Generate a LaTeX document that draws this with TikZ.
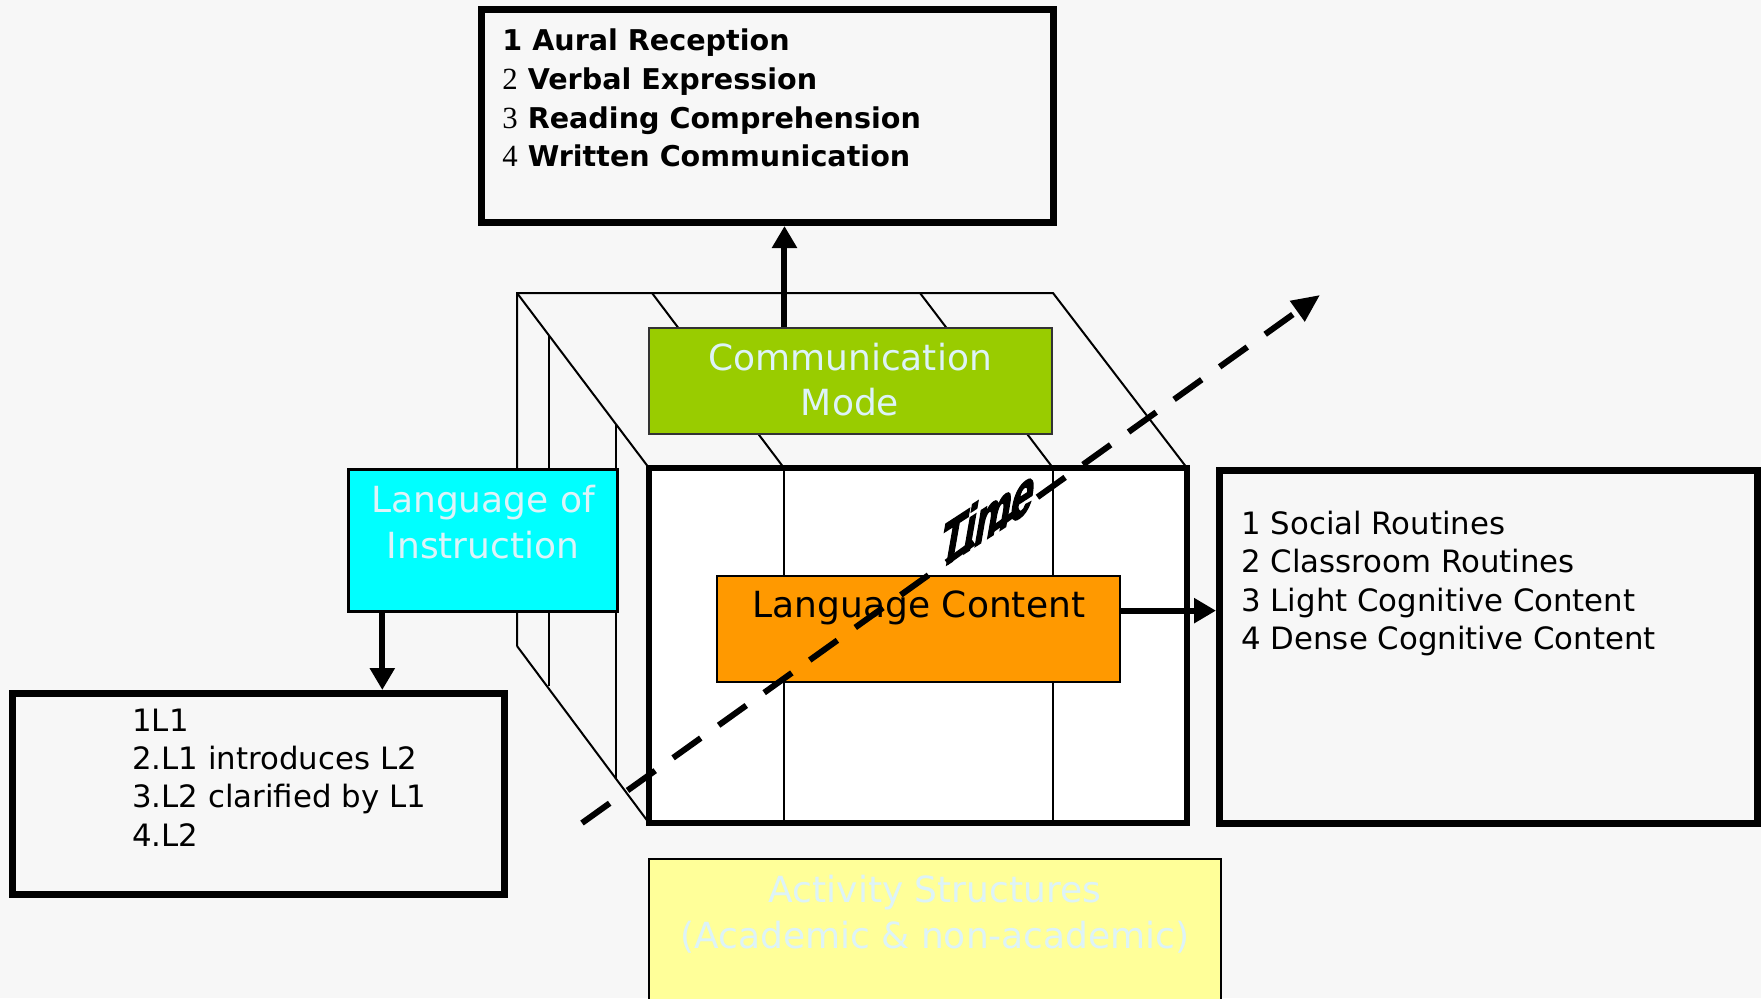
\documentclass[tikz,border=0pt]{standalone}
\usepackage{fontspec}
\setmainfont{DejaVu Sans}
\newfontfamily\serifnum{Liberation Serif}
\newfontfamily\timefont[FakeBold=3.5]{Liberation Sans}
\usetikzlibrary{arrows.meta,calc}
\definecolor{bg}{HTML}{F7F7F7}
\definecolor{lbl}{HTML}{DDF3F8}
\definecolor{cmgreen}{HTML}{99CC00}
\definecolor{licyan}{HTML}{00FFFF}
\definecolor{lcorange}{HTML}{FF9900}
\definecolor{asyellow}{HTML}{FFFF99}
\begin{document}
\begin{tikzpicture}[x=0.5pt,y=-0.5pt,
  cubeline/.style={line width=1pt,black},
  frontline/.style={line width=2.6pt,black},
  listbox/.style={draw=black,line width=3.5pt,inner sep=0pt,anchor=north west},
  colbox/.style={draw=black,line width=1pt,inner sep=0pt,anchor=north west},
  lbltext/.style={font=\fontsize{18}{22}\selectfont,text=lbl,anchor=base,inner sep=0pt},
  listtext/.style={font=\fontsize{15.4}{19}\selectfont,anchor=base west,inner sep=0pt},
  toptext/.style={font=\fontsize{14.3}{19}\selectfont\bfseries,anchor=base west,inner sep=0pt},
  arr/.style={line width=3pt,-{Triangle[length=11pt,width=12pt]}},
  timearr/.style={line width=3pt,dash pattern=on 17pt off 11pt,-{Triangle[length=14pt,width=12pt]}}
]
\useasboundingbox (0,0) rectangle (1761,998);
\clip (0,0) rectangle (1761,998);
\fill[bg] (0,0) rectangle (1761,998);

% cube: side and top faces
\draw[cubeline] (517,646) -- (517,293) -- (1053,293) -- (1187,468);
\draw[cubeline] (517,293) -- (649,468);
\draw[cubeline] (517,646) -- (649,823);
\draw[cubeline] (652,293) -- (784,468);
\draw[cubeline] (920,293) -- (1053,468);
\draw[cubeline] (549,335) -- (549,686);
\draw[cubeline] (616,424) -- (616,778);

% front face
\fill[white] (649,468) rectangle (1187,823);
\draw[cubeline] (784,468) -- (784,823);
\draw[cubeline] (1053,468) -- (1053,823);
\draw[frontline] (649,468) rectangle (1187,823);

% coloured boxes
\node[colbox,fill=cmgreen,draw=black!80,minimum width=201.5pt,minimum height=53pt] (comm) at (648,327) {};
\node[lbltext] (commA) at (850,370) {Communication};
\node[lbltext] (commB) at (850,415) {Mode};

\node[colbox,fill=licyan,line width=1.3pt,minimum width=134.5pt,minimum height=71pt] (linstr) at (347,468) {};
\node[lbltext] (linA) at (483,512) {Language of};
\node[lbltext] (linB) at (483,558) {Instruction};

\node[colbox,fill=lcorange,minimum width=201.5pt,minimum height=53pt] (lc) at (716,575) {};
\node[lbltext,text=black] (lcA) at (919,617) {Language Content};

\node[colbox,fill=asyellow,line width=1.2pt,minimum width=286pt,minimum height=90pt] (act) at (648,858) {};
\node[lbltext] (actA) at (935,902) {Activity Structures};
\node[lbltext] (actB) at (935,948) {(Academic \& non-academic)};

% list boxes
\node[listbox,minimum width=286pt,minimum height=106.5pt] (topbox) at (478,6) {};
\node[toptext] (t1) at (502,50) {1 Aural Reception};
\node[toptext] (t2) at (502,89) {{\serifnum\mdseries\fontsize{15.4}{19}\selectfont 2} Verbal Expression};
\node[toptext] (t3) at (502,128) {{\serifnum\mdseries\fontsize{15.4}{19}\selectfont 3} Reading Comprehension};
\node[toptext] (t4) at (502,166) {{\serifnum\mdseries\fontsize{15.4}{19}\selectfont 4} Written Communication};

\node[listbox,minimum width=268.75pt,minimum height=176.75pt] (rbox) at (1216,466.5) {};
\node[listtext] (r1) at (1241,534) {1 Social Routines};
\node[listtext] (r2) at (1241,572) {2 Classroom Routines};
\node[listtext] (r3) at (1241,611) {3 Light Cognitive Content};
\node[listtext] (r4) at (1241,649) {4 Dense Cognitive Content};

\node[listbox,minimum width=246pt,minimum height=100.5pt] (bbox) at (9,690) {};
\node[listtext] (b1) at (132,731) {1L1};
\node[listtext] (b2) at (132,769) {2.L1 introduces L2};
\node[listtext] (b3) at (132,807) {3.L2 clarified by L1};
\node[listtext] (b4) at (132,846) {4.L2};

% connectors
\coordinate (cfrom) at ($(comm.north west)!0.337!(comm.north east)$);
\draw[arr] (cfrom) -- (cfrom |- topbox.south);
\coordinate (lfrom) at ($(linstr.south west)!0.13!(linstr.south east)$);
\draw[arr] (lfrom) -- (lfrom |- bbox.north);
\coordinate (lcfrom) at ($(lc.north east)!0.33!(lc.south east)$);
\draw[arr] (lcfrom) -- (lcfrom -| rbox.west);

% time axis
\coordinate (tstart) at (582,823);
\coordinate (tend) at (1320,295);
\draw[timearr] (tstart) -- (tend);
\node[font=\timefont\bfseries\fontsize{24}{28}\selectfont,anchor=base west,inner sep=0pt,
      cm={0.839,0.545,0.243,1.4,(0,0)}] (time) at (937,571) {Time};
\end{tikzpicture}
\end{document}
